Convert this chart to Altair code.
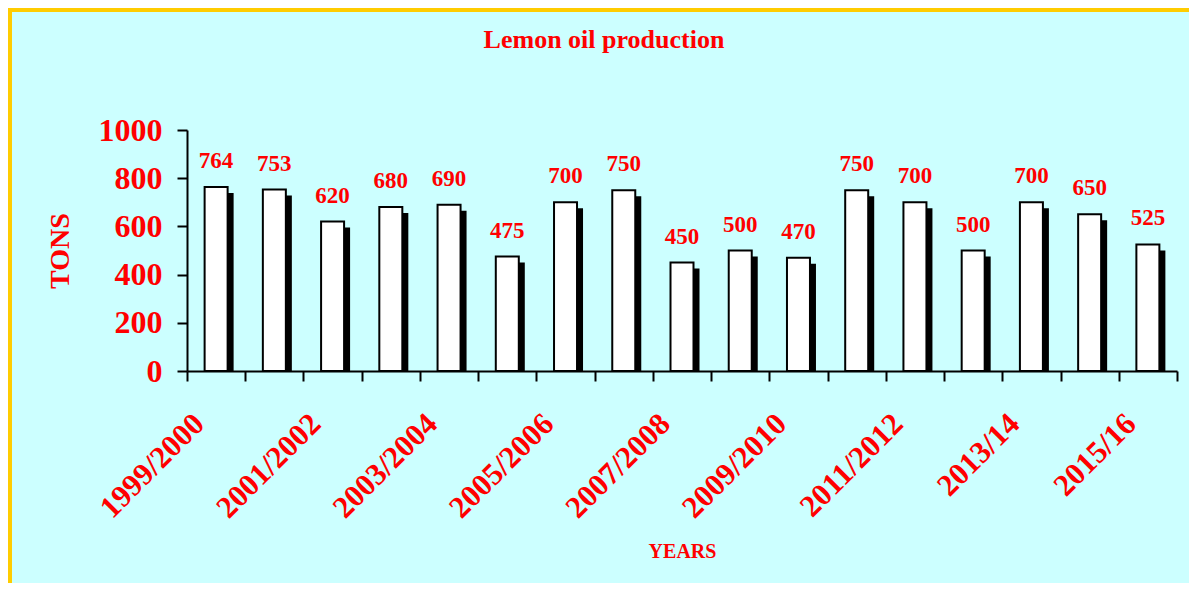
import altair as alt
import pandas as pd

years = ["1999/2000", "2000/2001", "2001/2002", "2002/2003", "2003/2004",
         "2004/2005", "2005/2006", "2006/2007", "2007/2008", "2008/2009",
         "2009/2010", "2010/2011", "2011/2012", "2012/13", "2013/14",
         "2014/15", "2015/16"]
tons = [764, 753, 620, 680, 690, 475, 700, 750, 450, 500, 470, 750, 700,
        500, 700, 650, 525]
shown_labels = years[::2]
y_ticks = [0, 200, 400, 600, 800, 1000]

FONT = "Liberation Serif"
RED = "#FF0000"

df = pd.DataFrame({"year": years, "tons": tons})

label_expr = ("indexof([" + ",".join("'%s'" % s for s in shown_labels)
              + "], datum.value) >= 0 ? datum.value : ''")

x_enc = alt.X(
    "year:N", sort=years,
    scale=alt.Scale(paddingInner=0, paddingOuter=0),
    axis=alt.Axis(
        title="YEARS", titleFont=FONT, titleFontSize=20, titleColor=RED,
        titleFontWeight="bold", titleY=186, titleBaseline="alphabetic",
        labelAngle=-45, labelAlign="right", labelBaseline="middle",
        labelPadding=38, labelOffset=-17, labelFontSize=31, labelColor=RED,
        labelFont=FONT, labelFontWeight="bold", labelExpr=label_expr,
        labelOverlap=False,
        tickBand="extent", tickSize=10, tickColor="black", tickWidth=2,
        domainColor="black", domainWidth=2,
    ),
)
y_enc = alt.Y(
    "tons:Q",
    scale=alt.Scale(domain=[0, 1000], nice=False),
    axis=alt.Axis(
        values=y_ticks, format="d", title="TONS", titleFont=FONT,
        titleFontSize=28, titleColor=RED, titleFontWeight="bold",
        titleAngle=-90, titleX=-119, titleY=120.5,
        titleBaseline="alphabetic",
        labelFont=FONT, labelFontSize=32, labelColor=RED,
        labelFontWeight="bold", labelPadding=15, labelFlush=False,
        tickSize=10, tickColor="black", tickWidth=2, domainColor="black",
        domainWidth=2, grid=False,
    ),
)

one = pd.DataFrame({"k": [0]})
frame_left = alt.Chart(one).mark_rule(
    color="#FFCC00", strokeWidth=4
).encode(x=alt.value(-177), y=alt.value(-122), y2=alt.value(600))
frame_top = alt.Chart(one).mark_rule(
    color="#FFCC00", strokeWidth=4
).encode(x=alt.value(-179), x2=alt.value(1100), y=alt.value(-120))

base = alt.Chart(df)
shadow = base.mark_bar(
    color="black", size=25, xOffset=5, yOffset=6, clip=True
).encode(x=x_enc, y=y_enc)
bars = base.mark_bar(
    fill="white", stroke="black", strokeWidth=2, size=23
).encode(x=x_enc, y=y_enc)
labels = base.mark_text(
    font=FONT, fontSize=23, fontWeight="bold", color=RED,
    baseline="alphabetic", dy=-19
).encode(x=x_enc, y=y_enc, text="tons:Q")

chart = alt.layer(frame_left, frame_top, shadow, bars, labels).properties(
    width=990, height=241,
    title=alt.Title("Lemon oil production", font=FONT, fontSize=26,
                    fontWeight="bold", color=RED, anchor="middle",
                    frame="group", dx=-78,
                    baseline="alphabetic", offset=-68),
    autosize=alt.AutoSizeParams(type="none"),
    padding={"left": 179, "top": 122, "right": 12, "bottom": 212},
    background="#CCFFFF",
).configure_view(stroke=None)

chart.save("out.html", embed_options={"renderer": "svg", "actions": False})
